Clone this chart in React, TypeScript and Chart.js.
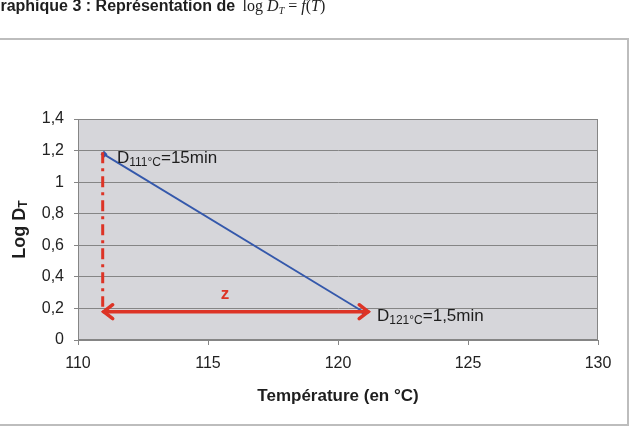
import React, { useEffect, useRef } from "react";
import { Chart, registerables } from "chart.js";

Chart.register(...registerables);

// ---- data ----
const temperatures = [111, 121];
const logDT = [1.176, 0.176];
const pointMain = ["D", "D"];
const pointSub = ["111°C", "121°C"];
const pointRest = ["=15min", "=1,5min"];
const xTickValues = [110, 115, 120, 125, 130];
const yTickLabels = ["0", "0,2", "0,4", "0,6", "0,8", "1", "1,2", "1,4"];

// annotation values (data units)
const zLineX = [110.95, 110.95];
const zLineY = [1.19, 0.21];
const zArrowX = [110.95, 121.2];
const zArrowY = 0.179;
const zLabel = "z";
const zLabelPos = [115.65, 0.29];

const RED = "#dd3426";
const FONT = "'Liberation Sans', Arial, sans-serif";

const decorPlugin = {
  id: "decor",
  beforeDraw(chart: any) {
    const { ctx, chartArea } = chart;
    ctx.save();
    // outer frame
    ctx.strokeStyle = "#bdbdbd";
    ctx.lineWidth = 2;
    ctx.strokeRect(-5, 39, 633, 386);
    // plot background
    ctx.fillStyle = "#d6d6da";
    ctx.fillRect(chartArea.left, chartArea.top, chartArea.right - chartArea.left, chartArea.bottom - chartArea.top);
    ctx.restore();
  },
  afterDraw(chart: any) {
    const { ctx, chartArea } = chart;
    const xs = chart.scales.x;
    const ys = chart.scales.y;
    ctx.save();
    // plot border
    ctx.strokeStyle = "#858585";
    ctx.lineWidth = 1;
    ctx.strokeRect(chartArea.left + 0.5, chartArea.top + 0.5, chartArea.right - chartArea.left - 1, chartArea.bottom - chartArea.top - 1);

    // y axis title "Log DT"
    ctx.save();
    ctx.translate(20, (chartArea.top + chartArea.bottom) / 2);
    ctx.rotate(-Math.PI / 2);
    ctx.fillStyle = "#1e1e1e";
    ctx.textBaseline = "middle";
    ctx.font = `bold 18px ${FONT}`;
    const mainW = ctx.measureText("Log D").width;
    ctx.font = `bold 12px ${FONT}`;
    const subW = ctx.measureText("T").width;
    const startX = -(mainW + subW) / 2;
    ctx.font = `bold 18px ${FONT}`;
    ctx.textAlign = "left";
    ctx.fillText("Log D", startX, 0);
    ctx.font = `bold 12px ${FONT}`;
    ctx.fillText("T", startX + mainW, 4);
    ctx.restore();

    // red dash-dot vertical line
    ctx.strokeStyle = RED;
    ctx.lineWidth = 3;
    ctx.setLineDash([11, 5, 3, 5]);
    ctx.beginPath();
    ctx.moveTo(xs.getPixelForValue(zLineX[0]), ys.getPixelForValue(zLineY[0]));
    ctx.lineTo(xs.getPixelForValue(zLineX[1]), ys.getPixelForValue(zLineY[1]));
    ctx.stroke();
    ctx.setLineDash([]);

    // double arrow
    const ax1 = xs.getPixelForValue(zArrowX[0]);
    const ax2 = xs.getPixelForValue(zArrowX[1]);
    const ay = ys.getPixelForValue(zArrowY);
    ctx.lineWidth = 3.5;
    ctx.lineCap = "round";
    ctx.beginPath();
    ctx.moveTo(ax1 + 1, ay);
    ctx.lineTo(ax2 - 1, ay);
    ctx.stroke();
    ctx.beginPath();
    ctx.moveTo(ax1 + 10, ay - 7);
    ctx.lineTo(ax1 + 1, ay);
    ctx.lineTo(ax1 + 10, ay + 7);
    ctx.moveTo(ax2 - 10, ay - 7);
    ctx.lineTo(ax2 - 1, ay);
    ctx.lineTo(ax2 - 10, ay + 7);
    ctx.stroke();

    // z label
    ctx.fillStyle = RED;
    ctx.font = `bold 17px ${FONT}`;
    ctx.textAlign = "center";
    ctx.textBaseline = "middle";
    ctx.fillText(zLabel, xs.getPixelForValue(zLabelPos[0]), ys.getPixelForValue(zLabelPos[1]));

    // point labels
    ctx.fillStyle = "#1e1e1e";
    ctx.textAlign = "left";
    ctx.textBaseline = "alphabetic";
    for (let i = 0; i < temperatures.length; i++) {
      const px = xs.getPixelForValue(temperatures[i]) + 13;
      const py = ys.getPixelForValue(logDT[i]) + 9;
      ctx.font = `17px ${FONT}`;
      ctx.fillText(pointMain[i], px, py);
      let x = px + ctx.measureText(pointMain[i]).width;
      ctx.font = `12px ${FONT}`;
      ctx.fillText(pointSub[i], x, py + 3);
      x += ctx.measureText(pointSub[i]).width;
      ctx.font = `17px ${FONT}`;
      ctx.fillText(pointRest[i], x, py);
    }
    ctx.restore();
  },
};

export default function App() {
  const ref = useRef<HTMLCanvasElement>(null);

  useEffect(() => {
    if (!ref.current) return;
    const chart = new Chart(ref.current, {
      type: "scatter",
      data: {
        datasets: [
          {
            data: temperatures.map((t, i) => ({ x: t, y: logDT[i] })),
            showLine: true,
            borderColor: "#3458ab",
            borderWidth: 1.8,
            backgroundColor: "#2f55b0",
            pointRadius: 3.5,
            pointStyle: "rectRot",
            pointBorderWidth: 0,
          },
        ],
      },
      options: {
        animation: false,
        responsive: false,
        layout: { padding: { left: 0, top: 119, right: 35, bottom: 25 } },
        plugins: { legend: { display: false }, tooltip: { enabled: false } },
        scales: {
          x: {
            type: "linear",
            min: 110,
            max: 130,
            afterBuildTicks: (s: any) => {
              s.ticks = xTickValues.map((v) => ({ value: v }));
            },
            afterFit: (s: any) => {
              s.height = 67;
            },
            grid: { drawOnChartArea: false, drawTicks: true, tickLength: 5, color: "#858585" },
            border: { color: "#858585" },
            ticks: {
              padding: 9,
              color: "#222",
              font: { family: FONT, size: 16 },
              maxRotation: 0,
            },
            title: {
              display: true,
              text: "Température (en °C)",
              color: "#1e1e1e",
              font: { family: FONT, size: 17, weight: "bold" },
              padding: { top: 0, bottom: 0 },
            },
          },
          y: {
            type: "linear",
            min: 0,
            max: 1.4,
            ticks: {
              stepSize: 0.2,
              padding: 10,
              color: "#222",
              font: { family: FONT, size: 16 },
              callback: (_v: any, i: number) => yTickLabels[i],
            },
            afterFit: (s: any) => {
              s.width = 78;
            },
            grid: { color: "#858585", tickLength: 4 },
            border: { color: "#858585" },
          },
        },
      },
      plugins: [decorPlugin],
    } as any);
    return () => chart.destroy();
  }, []);

  return (
    <div style={{ position: "fixed", left: 0, top: 0, width: 633, height: 432, background: "#fff", overflow: "hidden" }}>
      <canvas ref={ref} width={633} height={432} style={{ display: "block" }} />
      <div
        style={{
          position: "absolute",
          left: -12,
          top: -2,
          lineHeight: "16px",
          whiteSpace: "nowrap",
          color: "#1e1e1e",
        }}
      >
        <span style={{ fontFamily: FONT, fontWeight: "bold", fontSize: 16 }}>Graphique 3 : Représentation de </span>
        <span style={{ fontFamily: "'Liberation Serif', 'Times New Roman', serif", fontSize: 16, marginLeft: 3 }}>
          log <i>D</i>
          <sub style={{ fontSize: 10, verticalAlign: "-3px" }}><i>T</i></sub> = <i>f</i>(<i>T</i>)
        </span>
      </div>
    </div>
  );
}
